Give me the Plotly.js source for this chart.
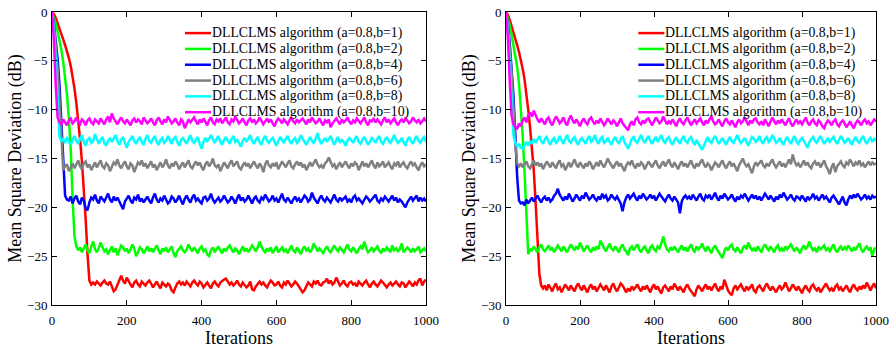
<!DOCTYPE html>
<html>
<head>
<meta charset="utf-8">
<script src="https://cdn.plot.ly/plotly-3.0.1.min.js"></script>
<style>
  html, body { margin: 0; padding: 0; background: #ffffff; }
  #chart { width: 895px; height: 348px; }
</style>
</head>
<body>
<div id="chart"></div>
<script>
// Iteration index shared by every learning curve (one sample every 5 iterations, 0..1000)
const iterations = Array.from({ length: 201 }, (_, i) => i * 5);

const seriesLabels = [
  'DLLCLMS algorithm (a=0.8,b=1)',
  'DLLCLMS algorithm (a=0.8,b=2)',
  'DLLCLMS algorithm (a=0.8,b=4)',
  'DLLCLMS algorithm (a=0.8,b=6)',
  'DLLCLMS algorithm (a=0.8,b=8)',
  'DLLCLMS algorithm (a=0.8,b=10)'
];

// ---- Left panel: MSD (dB) ----
const msdLeftB1 = [
  0,-0.2,-0.6,-1.1,-1.6,-2.2,-2.8,-3.4,-4.0,-4.7,-5.5,-6.5,-7.8,-9.3,-11.0,-13.0,-15.3,-18.0,-21.2,-24.8,-27.5,-27.9,
  -27.7,-27.9,-27.6,-27.8,-28.0,-27.7,-27.5,-27.8,-27.9,-27.6,
  -28.1,-28.6,-28.4,-27.9,-27.3,-27.0,-27.5,-27.8,-27.2,-27.6,
  -27.9,-28.2,-27.7,-27.5,-27.9,-28.1,-27.6,-27.8,-28.0,-27.7,
  -27.5,-27.8,-28.2,-27.9,-27.6,-28.0,-28.3,-27.7,-27.9,-28.1,
  -27.8,-28.0,-28.5,-28.7,-28.2,-27.8,-27.6,-27.9,-27.7,-28.0,
  -27.6,-27.9,-28.1,-27.7,-27.5,-27.8,-28.0,-27.6,-27.8,-28.2,
  -27.9,-27.7,-28.0,-28.3,-27.8,-27.6,-27.9,-28.1,-27.7,-27.5,
  -27.4,-27.3,-27.6,-27.9,-27.7,-28.0,-27.8,-27.5,-27.9,-28.1,
  -27.7,-27.9,-28.2,-28.0,-27.6,-28.4,-28.5,-28.1,-27.8,-27.6,
  -27.9,-27.7,-28.0,-28.2,-27.8,-27.5,-27.7,-28.0,-27.9,-27.6,
  -28.0,-28.2,-27.7,-27.9,-27.5,-27.8,-28.1,-27.9,-27.6,-27.8,
  -28.1,-28.4,-28.7,-28.5,-28.0,-27.7,-27.9,-28.1,-27.6,-27.8,
  -27.5,-27.9,-28.0,-27.7,-27.6,-27.3,-27.8,-27.5,-27.9,-27.7,
  -27.2,-27.6,-28.0,-27.8,-27.5,-27.9,-28.1,-27.7,-27.6,-27.9,
  -27.8,-28.1,-27.6,-27.8,-28.0,-27.7,-27.5,-27.9,-28.2,-27.8,
  -27.6,-27.9,-28.1,-27.8,-27.5,-27.7,-28.0,-28.2,-27.9,-27.7,
  -28.0,-27.8,-27.6,-27.9,-28.1,-27.7,-27.8,-28.2,-27.9,-27.6,
  -27.8,-28.1,-27.7,-27.9,-27.5,-27.3,-28.0,-27.6,-27.4
];
const msdLeftB2 = [
  0,-0.5,-1.2,-2.0,-2.9,-3.9,-5.1,-6.6,-8.4,-10.8,-14.0,-19.0,-22.9,-24.0,-24.4,
  -24.1,-24.6,-24.2,-23.8,-24.4,-24.7,-24.0,-23.5,-24.3,-24.6,
  -24.2,-23.6,-24.1,-24.5,-24.3,-24.8,-24.4,-24.0,-24.6,-24.2,
  -24.9,-24.4,-23.9,-24.1,-24.5,-24.2,-24.7,-24.3,-23.8,-24.2,
  -25.0,-24.6,-24.1,-24.3,-24.7,-24.4,-24.0,-24.5,-24.2,-24.6,
  -24.3,-23.9,-24.4,-24.8,-24.2,-24.5,-24.1,-24.6,-24.3,-24.0,
  -24.7,-25.1,-24.5,-24.2,-24.0,-24.4,-24.6,-24.3,-23.8,-24.2,
  -24.5,-24.1,-24.4,-24.7,-24.2,-24.0,-24.5,-24.3,-24.8,-25.0,
  -24.4,-24.1,-24.6,-24.3,-24.0,-24.4,-24.7,-24.2,-24.5,-24.1,
  -23.9,-24.3,-24.6,-24.2,-24.4,-24.8,-24.3,-24.0,-24.5,-24.2,
  -24.6,-24.3,-23.9,-24.2,-24.5,-24.1,-23.5,-24.0,-24.4,-24.6,
  -24.2,-24.5,-24.1,-24.7,-24.3,-24.0,-24.6,-24.4,-24.1,-24.5,
  -24.3,-24.7,-24.2,-23.9,-24.4,-24.6,-24.1,-24.5,-24.8,-24.3,
  -24.0,-24.4,-24.2,-24.6,-24.3,-23.7,-24.1,-24.5,-24.2,-24.4,
  -24.7,-24.3,-24.0,-24.4,-24.6,-24.2,-23.9,-24.3,-24.5,-24.1,
  -24.4,-24.6,-24.2,-23.8,-24.3,-24.5,-24.1,-24.4,-24.7,-24.3,
  -24.0,-24.3,-23.5,-24.2,-24.6,-24.4,-24.1,-24.5,-24.3,-24.0,
  -24.4,-24.7,-24.2,-24.5,-24.1,-24.3,-24.6,-23.9,-24.4,-24.2,
  -24.5,-24.3,-23.7,-24.6,-24.4,-24.1,-24.3,-24.6,-24.2,-24.5,
  -24.3,-24.0,-24.6,-24.4,-24.2,-24.5
];
const msdLeftB4 = [
  0,-1.2,-3.0,-4.8,-7.5,-11.5,-16.0,-18.8,-19.2,
  -19.3,-18.9,-19.6,-19.1,-18.8,-19.4,-19.7,-19.0,-19.3,-20.1,
  -20.3,-19.5,-19.0,-19.2,-18.7,-19.3,-19.6,-18.9,-19.1,-19.4,
  -19.0,-18.6,-19.2,-19.5,-18.9,-19.3,-19.0,-19.4,-19.7,-20.2,
  -19.4,-19.1,-18.8,-19.3,-19.6,-19.0,-19.2,-18.7,-19.4,-19.1,
  -19.5,-19.2,-18.9,-19.3,-19.6,-19.0,-18.6,-19.2,-19.5,-19.1,
  -19.3,-18.8,-19.2,-19.6,-19.4,-18.9,-19.1,-19.5,-19.2,-18.8,
  -19.3,-19.7,-19.1,-18.8,-19.2,-19.5,-19.0,-18.7,-19.3,-19.1,
  -19.4,-19.6,-19.0,-18.9,-19.3,-19.1,-18.6,-19.2,-19.5,-19.3,
  -19.0,-19.4,-19.2,-18.8,-19.1,-19.5,-19.3,-18.9,-19.2,-19.6,
  -19.1,-18.7,-19.3,-19.0,-19.4,-19.2,-18.8,-19.3,-19.6,-19.1,
  -18.9,-19.3,-19.5,-19.0,-19.2,-18.7,-19.1,-19.4,-19.2,-18.8,
  -19.3,-19.1,-19.5,-19.0,-18.6,-19.2,-19.4,-19.0,-19.3,-19.6,
  -19.2,-18.9,-19.3,-19.1,-19.5,-19.2,-18.8,-19.0,-19.4,-19.2,
  -18.5,-19.0,-19.3,-19.6,-19.1,-18.8,-19.2,-19.4,-19.0,-19.3,
  -19.5,-19.1,-18.7,-19.2,-19.4,-19.0,-19.3,-19.1,-18.9,-19.4,
  -19.2,-19.5,-19.0,-18.8,-19.3,-19.1,-19.4,-19.6,-19.2,-18.9,
  -19.1,-19.4,-19.2,-19.0,-18.7,-19.3,-19.5,-19.1,-19.3,-18.9,
  -19.2,-19.4,-19.1,-18.8,-19.3,-19.0,-19.5,-19.2,-19.4,-19.7,
  -20.0,-19.5,-19.2,-18.9,-19.3,-19.1,-18.8,-19.4,-19.0,-19.3,
  -19.1,-19.4
];
const msdLeftB6 = [
  0,-1.4,-3.6,-5.8,-9.0,-13.5,-16.2,-15.8,
  -15.6,-16.3,-15.8,-15.5,-16.0,-15.6,-15.2,-15.8,-16.1,-15.5,
  -15.3,-15.9,-15.6,-16.2,-15.7,-15.4,-15.9,-15.6,-15.2,-15.8,
  -16.0,-15.5,-15.7,-16.3,-15.8,-15.4,-15.6,-15.1,-15.7,-16.0,
  -15.6,-15.3,-15.8,-16.1,-15.5,-15.7,-16.4,-15.9,-15.4,-15.6,
  -15.2,-15.8,-15.5,-16.0,-15.7,-15.3,-15.9,-15.6,-16.2,-15.7,
  -15.4,-15.9,-15.6,-15.1,-15.7,-16.0,-15.5,-15.8,-15.3,-15.6,
  -16.1,-15.7,-15.4,-15.9,-15.5,-15.2,-15.8,-16.0,-15.6,-15.3,
  -15.7,-15.4,-15.9,-16.2,-15.6,-15.3,-15.8,-15.5,-15.0,-15.7,
  -15.9,-15.6,-16.3,-15.8,-15.4,-15.7,-16.0,-15.5,-15.2,-15.8,
  -15.6,-15.3,-15.9,-16.1,-15.7,-15.4,-15.8,-15.5,-16.0,-15.6,
  -15.3,-15.7,-16.0,-15.5,-15.8,-16.4,-15.6,-15.2,-15.7,-15.9,
  -15.5,-15.8,-15.4,-16.1,-15.7,-15.3,-15.6,-15.9,-15.5,-15.2,
  -15.8,-16.0,-15.6,-15.3,-15.7,-15.4,-15.9,-15.6,-16.2,-15.7,
  -15.4,-15.8,-15.5,-15.1,-15.6,-15.9,-15.7,-16.0,-15.5,-15.3,
  -14.9,-15.4,-15.8,-15.6,-16.1,-15.7,-15.4,-15.9,-15.6,-15.3,
  -15.7,-16.0,-15.5,-15.8,-15.4,-15.6,-16.2,-15.7,-15.3,-15.8,
  -15.5,-15.9,-15.6,-15.2,-15.7,-16.0,-15.4,-15.8,-15.6,-15.3,
  -15.9,-15.6,-15.4,-15.8,-16.1,-15.5,-15.7,-15.3,-15.9,-15.6,
  -15.4,-15.8,-16.0,-15.6,-15.3,-15.7,-15.5,-15.9,-16.2,-15.7,
  -15.4,-15.8,-15.6
];
const msdLeftB8 = [
  0,-2.0,-5.0,-9.5,-12.8,-13.2,
  -13.0,-13.4,-12.8,-13.3,-13.6,-13.1,-12.7,-13.2,-13.5,-13.0,
  -12.6,-13.3,-13.7,-13.1,-12.9,-13.4,-13.2,-12.5,-13.0,-13.5,
  -13.1,-12.8,-13.4,-13.7,-13.2,-12.9,-13.3,-13.0,-12.6,-13.2,
  -13.6,-13.1,-12.8,-13.4,-13.9,-13.3,-13.0,-12.7,-13.2,-13.5,
  -13.1,-12.8,-13.3,-13.6,-13.0,-12.6,-13.2,-13.4,-13.0,-12.7,
  -13.3,-13.6,-13.1,-12.9,-13.4,-13.2,-12.7,-13.1,-13.5,-13.0,
  -12.8,-13.3,-13.7,-13.1,-12.9,-13.2,-13.5,-13.0,-12.6,-13.2,
  -13.4,-13.1,-12.8,-13.5,-14.0,-13.3,-12.9,-13.2,-13.0,-12.6,
  -13.1,-13.4,-13.0,-12.7,-13.3,-13.6,-13.1,-12.8,-13.2,-13.5,
  -13.0,-12.7,-13.3,-13.1,-13.4,-13.8,-13.2,-12.9,-13.3,-13.0,
  -12.6,-13.2,-13.5,-13.1,-12.8,-13.3,-13.6,-13.0,-12.7,-13.2,
  -13.4,-13.1,-12.9,-13.3,-13.7,-13.2,-12.8,-13.1,-13.4,-13.0,
  -12.7,-13.2,-13.5,-13.1,-12.9,-13.4,-13.2,-12.6,-13.0,-13.3,
  -13.6,-13.1,-12.8,-13.2,-13.4,-13.0,-12.4,-13.1,-13.5,-13.2,
  -12.9,-13.3,-13.0,-12.7,-13.2,-13.6,-13.1,-12.8,-13.4,-13.1,
  -13.3,-13.7,-13.2,-12.9,-13.1,-13.4,-13.0,-12.7,-13.3,-13.5,
  -13.1,-12.8,-13.2,-13.6,-13.3,-12.9,-13.1,-13.4,-13.0,-12.7,
  -13.3,-13.5,-13.1,-12.8,-13.2,-13.4,-13.0,-12.6,-13.1,-13.4,
  -13.2,-12.9,-13.3,-13.7,-13.1,-12.8,-13.2,-13.5,-13.0,-12.7,
  -13.2,-13.4,-13.0,-12.8,-13.3
];
const msdLeftB10 = [
  0,-2.8,-7.5,-10.8,-11.3,
  -11.5,-11.0,-11.3,-11.6,-11.1,-10.9,-11.4,-11.2,-10.8,-11.3,
  -11.5,-11.0,-11.2,-11.6,-11.1,-10.9,-11.3,-11.5,-11.0,-11.2,
  -11.4,-10.9,-11.2,-11.5,-11.0,-10.7,-11.3,-10.4,-10.9,-11.2,
  -11.5,-11.1,-10.8,-11.2,-11.4,-11.0,-11.3,-11.6,-11.1,-10.9,
  -11.3,-11.0,-11.2,-11.5,-10.8,-11.1,-11.4,-11.2,-10.9,-11.3,
  -11.6,-11.1,-10.8,-11.2,-11.5,-11.0,-11.3,-10.7,-11.1,-11.4,
  -11.2,-10.9,-11.3,-11.6,-11.0,-11.2,-11.9,-11.4,-11.0,-11.3,
  -11.1,-10.8,-11.2,-11.5,-11.0,-11.3,-10.9,-11.2,-11.6,-11.1,
  -10.8,-11.3,-11.5,-11.0,-11.2,-10.9,-11.4,-11.1,-10.8,-11.3,
  -11.5,-11.0,-11.2,-10.7,-11.1,-11.4,-11.2,-10.9,-11.3,-11.6,
  -11.1,-10.9,-11.3,-11.0,-11.4,-11.2,-10.8,-11.1,-11.5,-11.2,
  -10.9,-11.3,-11.0,-11.4,-11.7,-11.2,-10.9,-11.1,-11.4,-11.0,
  -11.3,-11.5,-11.1,-10.8,-11.2,-11.4,-11.0,-11.3,-11.1,-10.9,
  -11.2,-11.5,-11.0,-11.3,-10.8,-11.1,-11.4,-11.2,-10.9,-11.3,
  -11.6,-11.1,-11.3,-11.0,-11.8,-11.4,-11.1,-10.9,-11.2,-11.5,
  -11.0,-11.3,-11.1,-10.8,-11.2,-11.5,-11.1,-11.3,-10.9,-11.2,
  -11.4,-11.1,-10.8,-11.3,-11.6,-11.1,-11.2,-10.9,-11.3,-11.0,
  -11.2,-11.5,-11.1,-10.8,-11.3,-11.0,-11.4,-11.2,-10.9,-11.3,
  -11.6,-11.2,-11.0,-11.3,-10.9,-11.1,-11.4,-11.2,-10.8,-11.1,
  -11.3,-11.0,-11.4,-11.2,-10.9,-11.2
];

// ---- Right panel: MSD (dB) ----
const msdRightB1 = [
  0,-0.3,-0.8,-1.4,-2.0,-2.7,-3.4,-4.1,-4.9,-5.8,-6.9,-8.3,-10.0,-11.8,-13.8,-16.2,-19.5,-23.5,-26.8,-28.0,-28.3,
  -28.0,-28.5,-27.9,-28.3,-28.6,-28.1,-27.8,-28.4,-28.2,-28.7,
  -28.3,-27.9,-28.2,-28.5,-28.0,-28.3,-28.6,-28.1,-27.8,-28.2,
  -28.5,-28.0,-28.3,-28.7,-28.2,-27.9,-28.4,-28.1,-28.6,-28.3,
  -27.9,-28.2,-28.5,-28.0,-28.4,-28.7,-28.1,-27.8,-28.3,-28.6,
  -28.2,-27.8,-28.0,-28.4,-28.7,-28.3,-28.6,-28.1,-28.4,-28.2,
  -27.9,-28.3,-28.6,-28.1,-28.4,-28.0,-28.3,-28.7,-28.2,-27.9,
  -28.4,-28.1,-28.5,-28.8,-28.2,-28.0,-28.3,-28.6,-28.1,-28.4,
  -27.8,-28.2,-28.5,-28.1,-28.4,-28.7,-28.2,-27.9,-28.3,-28.6,
  -28.9,-29.1,-28.4,-28.0,-28.3,-28.6,-28.2,-27.9,-28.4,-28.1,
  -28.5,-28.2,-27.8,-28.3,-28.6,-28.1,-28.4,-27.4,-28.0,-28.5,
  -28.8,-29.0,-28.3,-28.0,-28.4,-28.2,-27.9,-28.3,-28.6,-28.1,
  -28.4,-28.2,-27.9,-28.5,-28.7,-28.2,-28.0,-28.3,-28.6,-28.1,
  -27.8,-28.2,-28.5,-28.1,-28.4,-28.7,-28.3,-28.0,-28.4,-28.2,
  -27.7,-28.1,-28.6,-28.3,-27.9,-28.2,-28.5,-28.1,-28.4,-28.8,
  -28.3,-28.0,-28.4,-28.6,-28.1,-27.9,-28.3,-28.5,-28.2,-28.7,
  -28.4,-28.1,-27.8,-28.2,-28.5,-28.3,-28.6,-28.1,-27.9,-28.4,
  -28.2,-28.6,-28.3,-28.0,-28.4,-28.7,-28.2,-27.9,-28.3,-28.5,
  -28.1,-28.4,-28.0,-28.3,-27.7,-28.2,-28.5,-28.1,-27.8,-28.3
];
const msdRightB2 = [
  0,-0.6,-1.4,-2.3,-3.3,-4.4,-5.6,-7.3,-9.6,-12.6,-16.3,-20.5,-24.8,-24.3,
  -24.4,-24.0,-24.3,-24.6,-24.1,-23.8,-24.3,-24.5,-24.2,-23.9,
  -24.4,-24.1,-24.6,-24.3,-23.9,-24.2,-24.5,-24.0,-24.3,-24.6,
  -24.2,-23.8,-24.1,-24.4,-24.0,-24.3,-23.6,-24.1,-24.5,-24.2,
  -23.9,-24.3,-24.6,-24.1,-24.4,-24.0,-24.3,-23.4,-23.9,-24.2,
  -24.5,-24.1,-23.7,-24.2,-24.4,-24.0,-24.3,-24.6,-24.1,-23.8,
  -24.3,-24.5,-24.9,-24.2,-24.0,-24.4,-24.1,-23.8,-24.3,-24.6,
  -24.2,-24.0,-24.4,-24.7,-24.1,-23.9,-24.3,-24.5,-24.0,-24.2,
  -23.7,-23.0,-23.8,-24.3,-24.5,-24.1,-24.4,-24.0,-24.3,-24.6,
  -24.2,-23.9,-24.4,-24.1,-24.5,-24.2,-23.8,-24.3,-24.6,-24.0,
  -24.3,-24.1,-23.7,-24.2,-24.5,-24.0,-24.4,-24.7,-24.2,-23.9,
  -24.3,-24.6,-24.9,-25.2,-24.5,-24.1,-24.4,-24.0,-23.8,-24.3,
  -24.5,-24.1,-24.4,-24.7,-24.2,-23.9,-24.3,-23.6,-24.1,-24.4,
  -24.2,-24.5,-24.0,-24.3,-24.6,-24.1,-23.8,-24.2,-24.4,-24.0,
  -24.3,-24.6,-24.1,-23.9,-24.4,-24.2,-24.5,-24.0,-24.3,-24.1,
  -23.8,-24.2,-24.5,-24.1,-24.4,-24.7,-24.2,-23.9,-24.3,-24.0,
  -23.5,-24.1,-24.4,-24.2,-24.6,-24.0,-24.3,-24.1,-23.9,-24.4,
  -24.2,-24.5,-24.1,-23.8,-24.3,-24.6,-24.2,-24.0,-24.4,-24.1,
  -24.3,-23.9,-24.2,-24.5,-24.1,-24.4,-24.0,-23.7,-24.3,-24.6,
  -24.2,-24.0,-24.4,-24.1,-25.0,-24.3,-24.1
];
const msdRightB4 = [
  0,-1.3,-3.2,-5.5,-8.5,-12.5,-16.8,-19.3,-19.6,
  -19.5,-19.8,-19.2,-19.6,-19.3,-19.0,-19.4,-19.1,-18.8,-19.2,
  -19.5,-19.1,-18.9,-19.3,-19.0,-19.4,-19.2,-18.8,-18.6,-18.1,
  -18.7,-19.0,-19.3,-18.9,-19.2,-18.6,-19.0,-19.4,-19.1,-18.7,
  -19.0,-19.3,-18.8,-19.1,-18.5,-18.9,-19.2,-19.0,-18.7,-19.1,
  -19.3,-18.9,-19.2,-18.6,-19.0,-18.8,-19.3,-19.1,-18.7,-19.0,
  -19.2,-18.9,-19.3,-19.6,-20.4,-19.5,-19.0,-18.7,-19.1,-18.9,
  -18.6,-19.0,-19.3,-18.8,-19.1,-18.6,-18.9,-19.2,-19.0,-18.7,
  -19.1,-18.8,-19.3,-19.0,-18.6,-18.9,-19.2,-19.4,-19.0,-18.7,
  -19.1,-19.3,-18.9,-19.2,-19.5,-20.6,-19.4,-19.0,-18.8,-19.1,
  -18.9,-19.2,-18.7,-19.0,-19.3,-18.9,-18.6,-19.1,-19.3,-18.8,
  -19.0,-18.7,-19.2,-18.9,-18.5,-19.0,-19.3,-18.8,-19.1,-18.6,
  -18.9,-19.2,-19.0,-18.7,-19.1,-19.4,-18.9,-19.2,-18.8,-19.0,
  -18.6,-18.9,-19.3,-19.0,-18.7,-19.1,-18.8,-19.2,-18.9,-19.3,
  -19.0,-18.6,-18.9,-19.2,-18.8,-19.1,-19.4,-18.9,-19.2,-18.7,
  -19.0,-18.5,-18.8,-19.2,-19.0,-18.7,-19.1,-19.3,-18.9,-19.0,
  -19.2,-18.8,-19.1,-19.4,-18.9,-19.2,-19.0,-18.6,-19.1,-18.9,
  -19.3,-19.0,-18.7,-19.1,-18.9,-19.2,-19.5,-19.0,-18.8,-19.1,
  -19.4,-19.7,-19.3,-18.9,-19.5,-19.8,-19.2,-18.8,-19.1,-18.7,
  -19.0,-18.6,-18.9,-19.2,-19.0,-18.7,-19.1,-18.9,-19.2,-18.8,
  -19.0,-18.9
];
const msdRightB6 = [
  0,-1.5,-3.8,-6.2,-9.6,-13.5,-15.5,-15.8,
  -15.5,-15.9,-15.6,-15.3,-15.8,-16.0,-15.6,-15.2,-15.7,-15.4,
  -15.8,-15.5,-16.1,-15.7,-15.3,-15.6,-15.9,-15.4,-15.7,-16.0,
  -15.5,-15.2,-15.8,-15.6,-16.2,-15.7,-15.4,-15.9,-15.5,-15.1,
  -15.6,-15.9,-15.4,-15.7,-16.0,-15.5,-15.8,-15.3,-15.6,-16.1,
  -15.7,-15.4,-15.8,-15.2,-15.6,-15.9,-15.5,-15.0,-15.4,-15.7,
  -16.0,-15.6,-15.3,-15.8,-15.5,-15.9,-16.3,-15.7,-15.4,-15.6,
  -15.2,-15.7,-16.0,-15.5,-15.8,-15.4,-15.6,-16.1,-15.7,-15.3,
  -15.6,-15.9,-15.5,-15.2,-15.7,-16.0,-15.6,-15.3,-15.8,-15.5,
  -15.1,-15.6,-15.9,-15.4,-15.7,-16.1,-15.6,-15.3,-15.8,-15.5,
  -15.9,-15.6,-15.2,-15.7,-16.0,-15.5,-15.8,-15.4,-15.1,-15.6,
  -15.9,-15.5,-15.7,-16.2,-15.8,-15.4,-15.6,-15.9,-15.5,-15.2,
  -15.7,-16.0,-15.6,-15.3,-15.8,-15.5,-15.9,-16.3,-15.7,-15.4,
  -15.0,-15.5,-15.8,-15.6,-16.1,-16.5,-15.8,-15.4,-15.7,-15.5,
  -15.2,-15.7,-15.9,-15.5,-15.8,-15.4,-15.1,-15.6,-15.9,-15.6,
  -15.3,-15.8,-15.5,-15.9,-15.4,-15.1,-15.6,-14.6,-15.3,-15.7,
  -15.5,-15.9,-15.6,-15.2,-15.7,-15.4,-15.8,-16.0,-15.5,-15.3,
  -15.7,-15.4,-15.9,-15.6,-15.2,-15.8,-16.1,-16.6,-15.9,-15.5,
  -16.4,-15.8,-15.5,-15.3,-15.7,-15.9,-15.4,-15.6,-15.1,-15.5,
  -15.8,-15.4,-15.6,-15.2,-15.7,-15.5,-15.9,-15.6,-15.3,-15.7,
  -15.4,-15.6,-15.5
];
const msdRightB8 = [
  0,-2.0,-5.2,-9.8,-12.6,-13.4,-13.8,
  -13.5,-13.9,-14.0,-13.6,-13.3,-13.7,-13.2,-13.5,-13.0,-13.4,
  -13.1,-12.7,-13.2,-13.5,-13.0,-12.8,-13.3,-13.6,-13.1,-12.9,
  -13.4,-13.2,-12.7,-13.1,-13.5,-13.0,-12.6,-13.2,-13.4,-13.0,
  -12.8,-13.3,-13.6,-13.1,-12.9,-13.2,-13.5,-13.0,-12.7,-13.3,
  -13.1,-12.6,-13.2,-13.5,-13.0,-12.8,-13.4,-13.2,-12.9,-13.3,
  -13.6,-13.1,-12.8,-13.2,-13.5,-13.0,-12.7,-13.3,-13.7,-14.0,
  -13.5,-13.0,-12.8,-13.2,-13.4,-12.9,-12.6,-13.1,-13.4,-13.0,
  -12.7,-13.2,-13.5,-13.1,-12.8,-13.3,-13.0,-12.6,-13.2,-13.4,
  -13.0,-12.8,-13.3,-13.6,-13.1,-12.9,-13.2,-13.5,-13.0,-12.7,
  -13.2,-13.4,-13.0,-12.8,-13.3,-13.6,-13.1,-13.5,-13.8,-14.1,
  -13.6,-13.1,-12.8,-13.2,-13.4,-13.0,-12.7,-13.1,-13.5,-13.2,
  -12.9,-13.3,-13.6,-13.1,-12.8,-13.2,-13.4,-13.0,-12.6,-13.1,
  -13.4,-13.2,-12.9,-13.3,-13.7,-13.2,-12.8,-13.0,-13.3,-13.1,
  -12.7,-13.2,-13.5,-13.0,-12.8,-13.3,-13.1,-12.6,-13.0,-13.4,
  -13.2,-12.9,-13.3,-13.6,-13.1,-12.8,-13.2,-13.5,-13.0,-12.7,
  -13.3,-13.5,-13.1,-12.9,-13.2,-13.6,-13.9,-13.3,-13.0,-12.8,
  -13.2,-13.4,-13.0,-12.7,-13.1,-13.5,-13.2,-12.9,-13.3,-13.0,
  -12.8,-13.2,-13.5,-13.1,-12.7,-13.0,-13.4,-13.2,-12.9,-13.3,
  -13.6,-13.1,-12.8,-13.2,-13.4,-13.0,-12.7,-13.2,-13.5,-13.1,
  -12.9,-13.3,-13.0,-13.2
];
const msdRightB10 = [
  0,-2.6,-7.0,-10.6,-11.5,
  -11.8,-12.0,-11.4,-11.7,-11.1,-10.8,-11.3,-10.6,-10.3,-10.7,
  -10.1,-10.6,-11.0,-11.3,-10.9,-11.2,-11.5,-11.0,-10.8,-11.3,
  -11.6,-11.1,-10.7,-11.0,-11.4,-11.2,-10.8,-11.3,-11.6,-11.0,
  -10.6,-11.1,-11.4,-11.0,-11.3,-11.7,-11.2,-10.9,-11.3,-11.5,
  -11.0,-10.8,-11.2,-11.5,-11.1,-11.4,-10.9,-11.2,-11.6,-11.3,
  -10.9,-11.2,-11.5,-11.1,-11.3,-11.7,-11.2,-10.9,-11.4,-11.6,
  -11.9,-12.1,-11.5,-11.2,-11.6,-11.0,-10.8,-11.3,-11.5,-11.1,
  -11.4,-11.0,-10.9,-11.3,-11.6,-11.2,-10.8,-11.1,-11.4,-11.2,
  -10.7,-11.1,-11.5,-11.2,-11.4,-11.0,-11.3,-11.7,-11.2,-10.9,
  -11.3,-11.5,-11.1,-10.8,-11.2,-11.6,-11.3,-11.0,-11.4,-11.2,
  -10.9,-11.3,-11.6,-11.1,-11.4,-11.0,-10.7,-11.2,-11.5,-11.3,
  -11.0,-11.4,-11.7,-11.2,-10.9,-11.3,-11.5,-11.1,-11.4,-11.8,
  -11.3,-11.0,-11.4,-11.2,-10.8,-11.3,-11.6,-11.1,-11.4,-11.0,
  -10.9,-11.3,-11.5,-11.2,-11.6,-11.0,-11.3,-11.7,-11.2,-10.8,
  -11.2,-11.5,-11.1,-11.4,-11.0,-11.3,-11.6,-11.2,-10.9,-11.4,
  -11.7,-11.3,-11.0,-11.4,-11.2,-11.5,-11.1,-10.8,-11.3,-11.6,
  -11.2,-11.0,-11.4,-11.6,-11.1,-11.3,-11.7,-11.9,-11.4,-11.1,
  -11.3,-11.6,-11.2,-11.0,-11.5,-11.7,-11.3,-11.1,-11.4,-11.8,
  -11.5,-11.2,-11.6,-11.9,-11.4,-11.1,-11.3,-11.6,-11.2,-11.0,
  -11.4,-11.2,-11.6,-11.3,-11.0,-11.2
];

const lineColors = ['#ff0000', '#00ff00', '#0000ff', '#808080', '#00ffff', '#ff00ff'];
const leftSeries = [msdLeftB1, msdLeftB2, msdLeftB4, msdLeftB6, msdLeftB8, msdLeftB10];
const rightSeries = [msdRightB1, msdRightB2, msdRightB4, msdRightB6, msdRightB8, msdRightB10];

const FONT = '"Liberation Serif", "Times New Roman", Times, serif';

function makeTraces(seriesList, xa, ya) {
  return seriesList.map((vals, k) => ({
    type: 'scatter',
    mode: 'lines',
    x: iterations,
    y: vals,
    name: seriesLabels[k],
    xaxis: xa,
    yaxis: ya,
    showlegend: false,
    line: { color: lineColors[k], width: 2.5 },
    hoverinfo: 'skip'
  }));
}

const traces = [
  ...makeTraces(leftSeries, 'x', 'y'),
  ...makeTraces(rightSeries, 'x2', 'y2')
];

const tickFont = { family: FONT, size: 13, color: '#000' };
const titleFont = { family: FONT, size: 18, color: '#000' };

function xAxis(domain, anchor) {
  return {
    domain: domain, anchor: anchor,
    range: [0, 1000], tick0: 0, dtick: 200,
    ticks: 'inside', ticklen: 5, tickwidth: 1, tickcolor: '#000',
    showline: true, linecolor: '#000', linewidth: 1, mirror: 'ticks',
    showgrid: false, zeroline: false,
    tickfont: tickFont, ticklabelstandoff: 3,
    title: { text: 'Iterations', font: titleFont, standoff: 4 },
    automargin: false
  };
}
function yAxis(anchor) {
  return {
    domain: [0, 1], anchor: anchor,
    range: [-30, 0], tick0: 0, dtick: 5,
    ticks: 'inside', ticklen: 5, tickwidth: 1, tickcolor: '#000',
    showline: true, linecolor: '#000', linewidth: 1, mirror: 'ticks',
    showgrid: false, zeroline: false,
    tickfont: tickFont, ticklabelstandoff: 1,
    title: { text: 'Mean Square Deviation (dB)', font: titleFont, standoff: 0 },
    automargin: false
  };
}

// Legend key for each panel: a short coloured stroke plus its label, stacked top-down
// inside the plot area (positions are fractions of the panel's axis domain).
function legendItems(xRef, yRef, keyX0, keyX1, textX) {
  const top = 0.928, step = 0.054;
  const shapes = [], notes = [];
  seriesLabels.forEach((label, k) => {
    const y = top - k * step;
    shapes.push({
      type: 'line', xref: xRef + ' domain', yref: yRef + ' domain',
      x0: keyX0, x1: keyX1, y0: y, y1: y,
      line: { color: lineColors[k], width: 2.5 }, layer: 'above'
    });
    notes.push({
      xref: xRef + ' domain', yref: yRef + ' domain',
      x: textX, y: y, xanchor: 'left', yanchor: 'middle',
      text: label, showarrow: false, borderpad: 0, borderwidth: 0,
      font: { family: FONT, size: 13.8, color: '#000' }
    });
  });
  return { shapes, notes };
}

const legLeft = legendItems('x', 'y', 0.3556, 0.4251, 0.4265);
const legRight = legendItems('x2', 'y2', 0.3576, 0.4278, 0.4284);

const layout = {
  width: 895, height: 348,
  margin: { l: 52, r: 19, t: 12, b: 43 },
  paper_bgcolor: '#ffffff', plot_bgcolor: '#ffffff',
  font: { family: FONT, color: '#000' },
  showlegend: false,
  xaxis: xAxis([0, 0.4539], 'y'),
  yaxis: yAxis('x'),
  xaxis2: xAxis([0.5510, 1], 'y2'),
  yaxis2: yAxis('x2'),
  shapes: [...legLeft.shapes, ...legRight.shapes],
  annotations: [...legLeft.notes, ...legRight.notes]
};

Plotly.newPlot('chart', traces, layout, { staticPlot: true, displayModeBar: false });
</script>
</body>
</html>
